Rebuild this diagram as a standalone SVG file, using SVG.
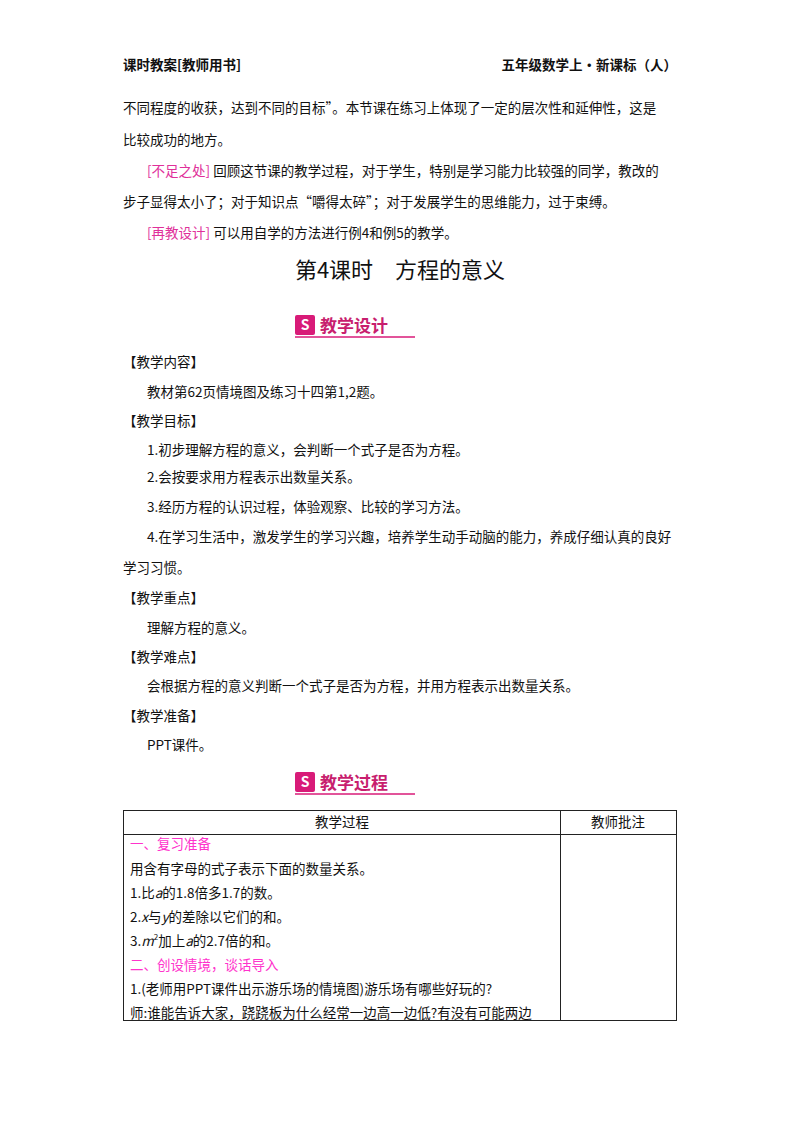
<svg xmlns="http://www.w3.org/2000/svg" width="800" height="1132" viewBox="0 0 800 1132">
<style>
text{font-family:"Noto Sans CJK SC","Liberation Serif",serif;font-size:13.5px;fill:#111}
.b{font-weight:bold}
.m{fill:#e0309a}
.p{fill:#ff33cc}
.t{font-size:22px}
.h{font-size:17px;font-weight:bold;fill:#c81e6e}
</style>
<rect width="800" height="1132" fill="#fff"/>
<text x="123" y="70" class="b">课时教案[教师用书]</text>
<text x="677" y="70" class="b" text-anchor="end">五年级数学上·新课标（人）</text>
<text x="123" y="113">不同程度的收获，达到不同的目标”。本节课在练习上体现了一定的层次性和延伸性，这是</text>
<text x="123" y="145">比较成功的地方。</text>
<text x="147" y="176"><tspan class="m">[不足之处]</tspan>  回顾这节课的教学过程，对于学生，特别是学习能力比较强的同学，教改的</text>
<text x="123" y="207">步子显得太小了；对于知识点“嚼得太碎”；对于发展学生的思维能力，过于束缚。</text>
<text x="147" y="238"><tspan class="m">[再教设计]</tspan>  可以用自学的方法进行例4和例5的教学。</text>
<text x="400" y="278" class="t" text-anchor="middle">第4课时　方程的意义</text>
<g id="sec1"><rect x="295" y="315" width="20" height="20" fill="#d81b78" rx="2"/><text x="305" y="330" text-anchor="middle" style="fill:#fff;font-size:14px;font-weight:bold">S</text><text x="320" y="332" class="h">教学设计</text><line x1="295" y1="337" x2="415" y2="337" stroke="#d81b78" stroke-width="1.5"/></g>
<text x="123" y="367">【教学内容】</text>
<text x="147" y="397">教材第62页情境图及练习十四第1,2题。</text>
<text x="123" y="426">【教学目标】</text>
<text x="147" y="455">1.初步理解方程的意义，会判断一个式子是否为方程。</text>
<text x="147" y="482">2.会按要求用方程表示出数量关系。</text>
<text x="147" y="512">3.经历方程的认识过程，体验观察、比较的学习方法。</text>
<text x="147" y="542">4.在学习生活中，激发学生的学习兴趣，培养学生动手动脑的能力，养成仔细认真的良好</text>
<text x="123" y="573">学习习惯。</text>
<text x="123" y="603">【教学重点】</text>
<text x="147" y="633">理解方程的意义。</text>
<text x="123" y="662">【教学难点】</text>
<text x="147" y="691">会根据方程的意义判断一个式子是否为方程，并用方程表示出数量关系。</text>
<text x="123" y="721">【教学准备】</text>
<text x="147" y="750">PPT课件。</text>
<g id="sec2"><rect x="295" y="772" width="20" height="20" fill="#d81b78" rx="2"/><text x="305" y="787" text-anchor="middle" style="fill:#fff;font-size:14px;font-weight:bold">S</text><text x="320" y="789" class="h">教学过程</text><line x1="295" y1="794" x2="415" y2="794" stroke="#d81b78" stroke-width="1.5"/></g>
<g id="table" fill="none" stroke="#222" stroke-width="1">
<rect x="123.5" y="810.5" width="553" height="210"/>
<line x1="123.5" y1="834.5" x2="676.5" y2="834.5"/>
<line x1="560.5" y1="810.5" x2="560.5" y2="1020.5"/>
</g>
<text x="342" y="827" text-anchor="middle">教学过程</text>
<text x="618" y="827" text-anchor="middle">教师批注</text>
<text x="130" y="849" class="p">一、复习准备</text>
<text x="130" y="874">用含有字母的式子表示下面的数量关系。</text>
<text x="130" y="898">1.比<tspan font-style="italic">a</tspan>的1.8倍多1.7的数。</text>
<text x="130" y="922">2.<tspan font-style="italic">x</tspan>与<tspan font-style="italic">y</tspan>的差除以它们的和。</text>
<text x="130" y="946">3.<tspan font-style="italic">m</tspan><tspan font-size="8" dy="-6">2</tspan><tspan dy="6">加上</tspan><tspan font-style="italic">a</tspan>的2.7倍的和。</text>
<text x="130" y="970" class="p">二、创设情境，谈话导入</text>
<text x="130" y="994">1.(老师用PPT课件出示游乐场的情境图)游乐场有哪些好玩的?</text>
<text x="130" y="1018">师:谁能告诉大家，跷跷板为什么经常一边高一边低?有没有可能两边</text>
</svg>
